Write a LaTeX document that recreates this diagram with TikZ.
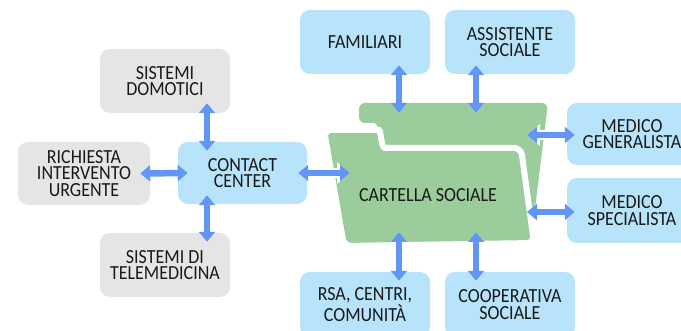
\documentclass[tikz,border=0pt]{standalone}
\usepackage{fontspec}
\setmainfont{Carlito}[FakeStretch=0.9]
\usetikzlibrary{arrows.meta,calc}
\definecolor{boxblue}{RGB}{183,228,250}
\definecolor{boxgray}{RGB}{229,229,229}
\definecolor{foldergreen}{RGB}{155,204,155}
\definecolor{linkblue}{RGB}{98,150,245}
\begin{document}
\begin{tikzpicture}[x=1pt,y=-1pt,
  label text/.style={font=\fontsize{20}{16.3}\selectfont, text=black!90},
  card/.style={label text, rounded corners=10pt, minimum width=130pt, minimum height=64pt,
    align=center, inner sep=0pt},
  partner/.style={card, fill=boxblue},
  source/.style={card, fill=boxgray},
  biarrow/.style={line width=6.5pt, draw=linkblue,
    {Triangle[width=16pt,length=10pt]}-{Triangle[width=16pt,length=10pt]},
    preaction={draw=white, line width=9.5pt,
      {Triangle[width=21pt,length=13pt]}-{Triangle[width=21pt,length=13pt]}}}
]
\useasboundingbox (0,0) rectangle (681,331);
\clip (0,0) rectangle (681,331);

% folder: back sheet, then the front sheet with a white rim
\path[fill=foldergreen, rounded corners=6pt]
  (359,103) -- (548,103) -- (533,225) -- (505,225) -- (505,170) -- (395,170)
  -- (395,146) .. controls (380,146) and (380,123) .. (368,123) -- (359,123) -- cycle;
\path[fill=foldergreen, draw=white, line width=6pt, rounded corners=7pt]
  (324,130) -- (372,130) .. controls (381,130) and (381,148) .. (392,148)
  -- (521,148) -- (534,243) -- (344,246) -- cycle;
\node[label text] (folder) at (428,195) {CARTELLA SOCIALE};

% anchor points on the folder
\coordinate (fT1) at (399,113);
\coordinate (fT2) at (476,113);
\coordinate (fR1) at (527,135);
\coordinate (fR2) at (527,212);
\coordinate (fB1) at (399,232);
\coordinate (fB2) at (476,232);
\coordinate (fL) at (350,173);

% partner boxes
\node[partner] (fam)  at (365,42)    {FAMILIARI};
\node[partner] (ass)  at (510,42)    {ASSISTENTE\\SOCIALE};
\node[partner, minimum height=62pt] (medg) at (632,134) {MEDICO\\GENERALISTA};
\node[partner, minimum height=65pt] (meds) at (632,210.5) {MEDICO\\SPECIALISTA};
\node[partner, minimum height=65pt] (rsa)  at (365,304.5) {RSA, CENTRI,\\COMUNITÀ};
\node[partner, minimum height=65pt] (coop) at (510,304.5) {COOPERATIVA\\SOCIALE};
\node[partner, minimum width=129pt, minimum height=62pt] (cc) at (242.5,173) {CONTACT\\CENTER};

% input sources
\node[source] (dom) at (165,81)  {SISTEMI\\DOMOTICI};
\node[source, minimum width=132pt, minimum height=63pt] (ric) at (84,173.5) {RICHIESTA\\INTERVENTO\\URGENTE};
\node[source] (tel) at (165,265) {SISTEMI DI\\TELEMEDICINA};

% links
\draw[biarrow] ($(fam.south -| fT1)+(0,-9)$) -- (fT1);
\draw[biarrow] ($(ass.south -| fT2)+(0,-9)$) -- (fT2);
\draw[biarrow] (fR1) -- ($(medg.west |- fR1)+(8,0)$);
\draw[biarrow] (fR2) -- ($(meds.west |- fR2)+(8,0)$);
\draw[biarrow] (fB1) -- ($(rsa.north -| fB1)+(0,9)$);
\draw[biarrow] (fB2) -- ($(coop.north -| fB2)+(0,9)$);
\draw[biarrow] ($(cc.east)+(-9,0)$) -- (fL);
\draw[biarrow] ($(dom.south)+(42,-10)$) -- ($(cc.north)+(-35.5,9)$);
\draw[biarrow] ($(ric.east)+(-10,0)$) -- ($(cc.west)+(10,0)$);
\draw[biarrow] ($(tel.north)+(42,9)$) -- ($(cc.south)+(-35.5,-9)$);
\end{tikzpicture}
\end{document}
